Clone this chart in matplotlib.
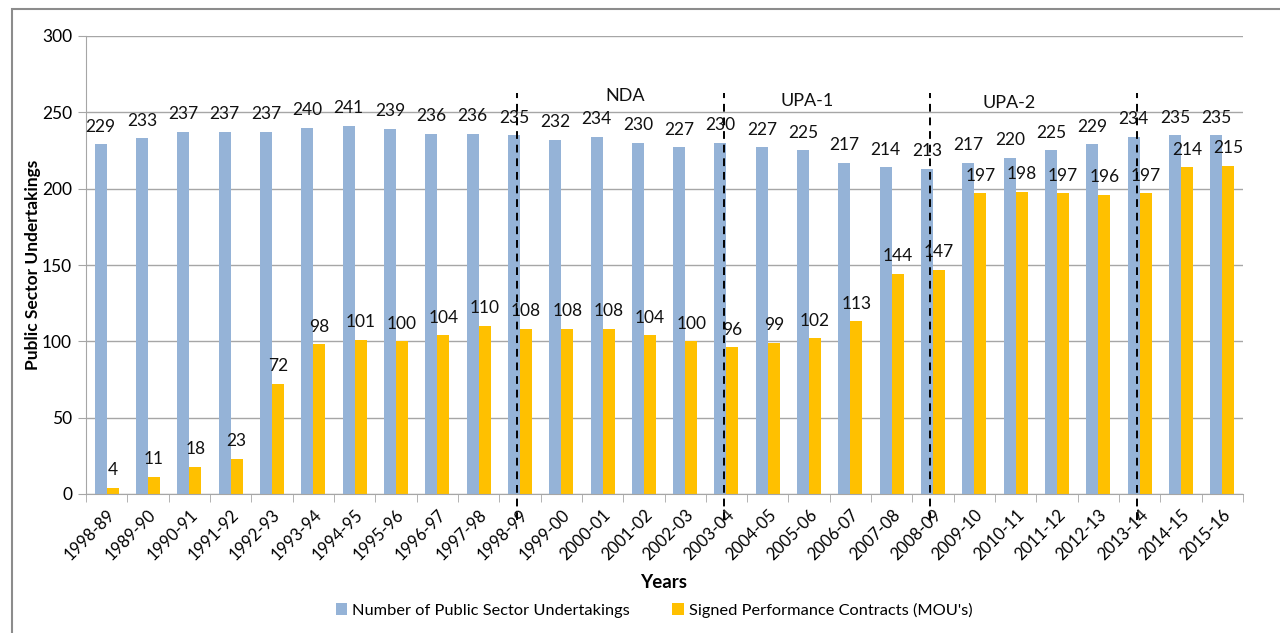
import matplotlib.pyplot as plt
import numpy as np
from matplotlib.patches import Rectangle

plt.rcParams['font.family'] = ['Lato', 'DejaVu Sans']

# data
years = ['1998-89', '1989-90', '1990-91', '1991-92', '1992-93', '1993-94', '1994-95',
         '1995-96', '1996-97', '1997-98', '1998-99', '1999-00', '2000-01', '2001-02',
         '2002-03', '2003-04', '2004-05', '2005-06', '2006-07', '2007-08', '2008-09',
         '2009-10', '2010-11', '2011-12', '2012-13', '2013-14', '2014-15', '2015-16']
psu = [229, 233, 237, 237, 237, 240, 241, 239, 236, 236, 235, 232, 234, 230,
       227, 230, 227, 225, 217, 214, 213, 217, 220, 225, 229, 234, 235, 235]
mou = [4, 11, 18, 23, 72, 98, 101, 100, 104, 110, 108, 108, 108, 104,
       100, 96, 99, 102, 113, 144, 147, 197, 198, 197, 196, 197, 214, 215]

# government changes (dashed lines) and era names
breaks = ['1998-99', '2003-04', '2008-09', '2013-14']
eras = ['NDA', 'UPA-1', 'UPA-2']
era_pos = [12.55, 16.96, 21.85]
era_y = [261, 257.5, 256]

blue = '#95B3D7'
gold = '#FFC000'
grid_c = '#A6A6A6'

fig = plt.figure(figsize=(12.8, 6.33), dpi=100)
ax = fig.add_axes([86/1280, 1-494/633, (1243-86)/1280, (494-36)/633])

x = np.arange(len(years))
w = 0.29
ax.bar(x - w/2, psu, w, color=blue, label='Number of Public Sector Undertakings', zorder=2)
ax.bar(x + w/2, mou, w, color=gold, label="Signed Performance Contracts (MOU's)", zorder=2)

for i in range(len(years)):
    ax.annotate(str(psu[i]), (x[i] - w/2, psu[i]), xytext=(0, 7), textcoords='offset points',
                ha='center', va='bottom', fontsize=12.5, color='#111111', zorder=4)
    ax.annotate(str(mou[i]), (x[i] + w/2, mou[i]), xytext=(0, 7), textcoords='offset points',
                ha='center', va='bottom', fontsize=12.5, color='#111111', zorder=4)

for b in breaks:
    bx = years.index(b) - 0.07
    ax.plot([bx, bx], [-17, 262.5], ls=(0, (4, 3)), color='black', lw=1.4,
            clip_on=False, zorder=5)

for name, px, py in zip(eras, era_pos, era_y):
    ax.text(px, py, name, ha='center', va='center', fontsize=13, color='#111111')

ax.set_xlim(-0.5, len(years) - 0.5)
ax.set_ylim(0, 300)
ax.set_yticks(range(0, 301, 50))
ax.yaxis.grid(True, color=grid_c, lw=1, zorder=0)
ax.set_axisbelow(True)

ax.set_xticks(x)
ax.set_xticklabels(years, rotation=45, ha='right', va='top', rotation_mode='anchor', fontsize=12)
ax.set_xticks(np.arange(-0.5, len(years)), minor=True)
ax.tick_params(axis='x', which='major', length=0, pad=9)
ax.tick_params(axis='x', which='minor', length=6, color=grid_c)
ax.tick_params(axis='y', length=6, color=grid_c, labelsize=12.5, pad=4)

for s in ['top', 'right']:
    ax.spines[s].set_visible(False)
for s in ['left', 'bottom']:
    ax.spines[s].set_color(grid_c)

ax.set_ylabel('Public Sector Undertakings', fontsize=12.5, fontweight='bold', labelpad=1)
fig.text(664/1280, 1-583/633, 'Years', ha='center', va='center', fontsize=13.5, fontweight='bold')

fig.legend(loc='center', bbox_to_anchor=(654/1280, 1-610/633), ncol=2, frameon=False,
           fontsize=11.8, handlelength=0.7, handleheight=0.7, columnspacing=2.6, handletextpad=0.3)

# outer frame of the figure box
fig.patches.append(Rectangle((12/1280, -0.1), 1.2, 1 - 9/633 + 0.1, transform=fig.transFigure,
                             fill=False, edgecolor='#8C8C8C', lw=1.5))

fig.savefig('out.png', dpi=100)
